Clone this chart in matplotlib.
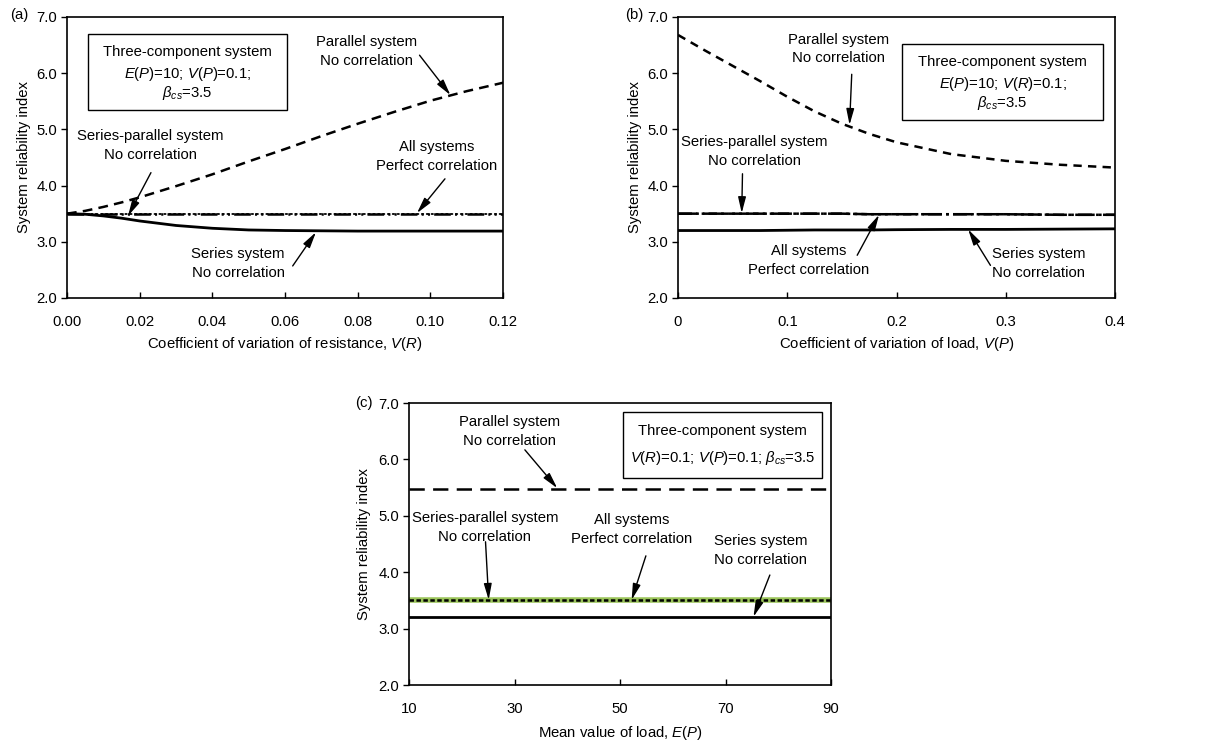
import numpy as np
import matplotlib
matplotlib.use("Agg")
import matplotlib.pyplot as plt
from matplotlib.patches import Rectangle

plt.rcParams['font.family'] = ['Liberation Sans', 'DejaVu Sans']
plt.rcParams['font.size'] = 10.7
plt.rcParams['mathtext.fontset'] = 'custom'
plt.rcParams['mathtext.rm'] = 'Liberation Sans'
plt.rcParams['mathtext.it'] = 'Liberation Sans:italic'
plt.rcParams['lines.scale_dashes'] = False

# (a) V(R) varies
vr = [0.0, 0.005, 0.01, 0.015, 0.02, 0.03, 0.04, 0.05, 0.06, 0.07, 0.08, 0.09, 0.10, 0.11, 0.12]
a_parallel = [3.50, 3.55, 3.62, 3.70, 3.79, 3.99, 4.20, 4.43, 4.65, 4.88, 5.10, 5.31, 5.51, 5.68, 5.83]
a_series = [3.50, 3.49, 3.46, 3.42, 3.37, 3.29, 3.24, 3.21, 3.20, 3.195, 3.19, 3.19, 3.19, 3.19, 3.19]
a_serpar = [3.50] * len(vr)
a_perfect = [3.50] * len(vr)

# (b) V(P) varies
vp = [0.0, 0.025, 0.05, 0.075, 0.1, 0.125, 0.15, 0.175, 0.2, 0.25, 0.3, 0.35, 0.4]
b_parallel = [6.68, 6.40, 6.13, 5.86, 5.58, 5.32, 5.10, 4.92, 4.77, 4.56, 4.44, 4.37, 4.32]
b_series = [3.20, 3.20, 3.20, 3.20, 3.205, 3.21, 3.21, 3.21, 3.215, 3.22, 3.22, 3.225, 3.23]
b_serpar = [3.50, 3.50, 3.50, 3.50, 3.50, 3.50, 3.50, 3.49, 3.49, 3.49, 3.49, 3.48, 3.48]
b_perfect = [3.50, 3.50, 3.50, 3.50, 3.50, 3.50, 3.50, 3.49, 3.49, 3.49, 3.49, 3.48, 3.48]

# (c) E(P) varies
ep = [10, 30, 50, 70, 90]
c_parallel = [5.47] * len(ep)
c_series = [3.20] * len(ep)
c_serpar = [3.50] * len(ep)
c_perfect = [3.50] * len(ep)

fig = plt.figure(figsize=(12.25, 7.44), dpi=100)
axa = fig.add_axes([0.0547, 0.5995, 0.356, 0.3777])
axb = fig.add_axes([0.5535, 0.5995, 0.3567, 0.3777])
axc = fig.add_axes([0.3339, 0.0793, 0.3445, 0.379])

arrow = dict(arrowstyle='-|>,head_length=0.9,head_width=0.22', color='k', lw=1.0,
             shrinkA=0, shrinkB=0)


def note(ax, text, xy_text, xy_tail, xy_head):
    ax.text(xy_text[0], xy_text[1], text, ha='center', va='center', linespacing=1.45)
    ax.annotate('', xy=xy_head, xytext=xy_tail, arrowprops=arrow)


def style(ax, xlim, xticks, xlabel, fmt, xlab_y, ylab_x):
    ax.set_xlim(*xlim)
    ax.set_ylim(2.0, 7.0)
    ax.set_xticks(xticks)
    ax.set_xticklabels([fmt.format(t) for t in xticks])
    ax.set_yticks([2, 3, 4, 5, 6, 7])
    ax.set_yticklabels(['2.0', '3.0', '4.0', '5.0', '6.0', '7.0'])
    ax.tick_params(axis='x', direction='in', length=4, width=1, pad=12)
    ax.tick_params(axis='y', direction='out', length=4, width=1, pad=3)
    for s in ax.spines.values():
        s.set_linewidth(1.2)
    ax.set_xlabel(xlabel)
    ax.xaxis.set_label_coords(0.5, xlab_y)
    ax.set_ylabel('System reliability index')
    ax.yaxis.set_label_coords(ylab_x, 0.5)


def box(ax, x0, y0, x1, y1):
    ax.add_patch(Rectangle((x0, y0), x1 - x0, y1 - y0, transform=ax.transAxes,
                           fill=False, ec='k', lw=1.0, zorder=5))


# ---- (a)
axa.plot(vr, a_parallel, color='k', lw=1.8, ls=(0, (7, 4.5)))
axa.plot(vr, a_series, color='k', lw=2.0, ls='-')
axa.plot(vr, a_perfect, color='k', lw=1.8, ls=(0, (12, 3, 1.5, 3, 1.5, 3)))
axa.plot(vr, a_serpar, color='k', lw=1.3, ls=(0, (1, 2.5)), dash_capstyle='round')
style(axa, (0, 0.12), [0, 0.02, 0.04, 0.06, 0.08, 0.10, 0.12],
      r'Coefficient of variation of resistance, $V$($R$)', '{:.2f}', -0.132, -0.082)
box(axa, 0.048, 0.670, 0.505, 0.941)
axa.text(0.0332, 6.38, 'Three-component system', ha='center', va='center')
axa.text(0.0332, 5.98, r'$E$($P$)=10; $V$($P$)=0.1;', ha='center', va='center')
axa.text(0.0332, 5.64, r'$\beta_{cs}$=3.5', ha='center', va='center')
note(axa, 'Parallel system\nNo correlation', (0.0825, 6.38), (0.097, 6.32), (0.1055, 5.61))
note(axa, 'Series-parallel system\nNo correlation', (0.023, 4.72), (0.0231, 4.23), (0.0168, 3.46))
note(axa, 'All systems\nPerfect correlation', (0.1016, 4.51), (0.104, 4.12), (0.0963, 3.51))
note(axa, 'Series system\nNo correlation', (0.0471, 2.62), (0.0621, 2.57), (0.0685, 3.17))

# ---- (b)
axb.plot(vp, b_parallel, color='k', lw=1.8, ls=(0, (6, 4.5)))
axb.plot(vp, b_series, color='k', lw=2.0, ls='-')
axb.plot(vp, b_perfect, color='k', lw=1.8, ls=(0, (14, 3, 2, 3)))
axb.plot(vp, b_serpar, color='k', lw=1.8, ls=(0, (10, 3, 2, 3)))
style(axb, (0, 0.4), [0, 0.1, 0.2, 0.3, 0.4],
      r'Coefficient of variation of load, $V$($P$)', '{:g}', -0.132, -0.082)
box(axb, 0.513, 0.635, 0.972, 0.905)
axb.text(0.297, 6.20, 'Three-component system', ha='center', va='center')
axb.text(0.297, 5.80, r'$E$($P$)=10; $V$($R$)=0.1;', ha='center', va='center')
axb.text(0.297, 5.47, r'$\beta_{cs}$=3.5', ha='center', va='center')
note(axb, 'Parallel system\nNo correlation', (0.1469, 6.43), (0.159, 5.98), (0.157, 5.08))
note(axb, 'Series-parallel system\nNo correlation', (0.0702, 4.61), (0.059, 4.21), (0.0583, 3.51))
note(axb, 'All systems\nPerfect correlation', (0.1197, 2.66), (0.164, 2.76), (0.184, 3.48))
note(axb, 'Series system\nNo correlation', (0.3304, 2.61), (0.286, 2.58), (0.2656, 3.22))

# ---- (c)
axc.plot(ep, c_parallel, color='k', lw=1.8, ls=(0, (11, 6)))
axc.plot(ep, c_series, color='k', lw=2.0, ls='-')
axc.plot(ep, c_perfect, color='#9bc45a', lw=4.0, ls='-')
axc.plot(ep, c_serpar, color='k', lw=1.8, ls=(0, (3.2, 1.8)))
style(axc, (10, 90), [10, 30, 50, 70, 90], r'Mean value of load, $E$($P$)', '{:g}',
      -0.138, -0.09)
box(axc, 0.508, 0.733, 0.978, 0.968)
axc.text(69.4, 6.51, 'Three-component system', ha='center', va='center')
axc.text(69.4, 6.02, r'$V$($R$)=0.1; $V$($P$)=0.1; $\beta_{cs}$=3.5', ha='center', va='center')
note(axc, 'Parallel system\nNo correlation', (28.99, 6.49), (31.96, 6.17), (38.1, 5.49))
note(axc, 'Series-parallel system\nNo correlation', (24.4, 4.80), (24.5, 4.54), (25.1, 3.51))
note(axc, 'All systems\nPerfect correlation', (52.2, 4.75), (54.9, 4.29), (52.2, 3.51))
note(axc, 'Series system\nNo correlation', (76.6, 4.38), (78.4, 3.95), (75.3, 3.21))

fig.text(10 / 1225, 1 - 15 / 744, '(a)', ha='left', va='center')
fig.text(625 / 1225, 1 - 15 / 744, '(b)', ha='left', va='center')
fig.text(355 / 1225, 1 - 403 / 744, '(c)', ha='left', va='center')

fig.savefig('out.png', dpi=100)
